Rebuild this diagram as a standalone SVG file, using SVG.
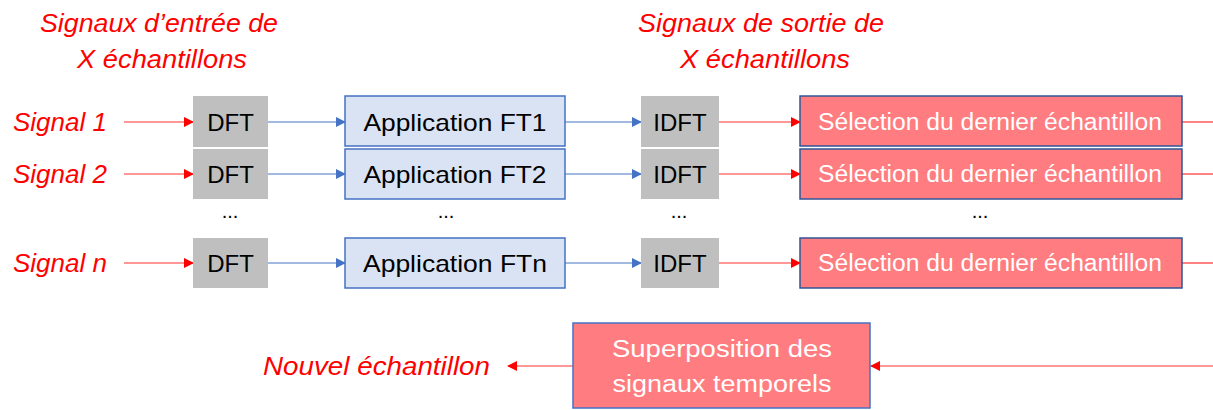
<svg xmlns="http://www.w3.org/2000/svg" width="1213" height="410" viewBox="0 0 1213 410">
<style>
.lbl{font-family:"Liberation Sans",Arial,sans-serif;font-style:italic;fill:#FF0000;font-size:25px}
.blk{font-family:"Liberation Sans",Arial,sans-serif;fill:#000;font-size:24px;text-anchor:middle;dominant-baseline:central}
.wht{font-family:"Liberation Sans",Arial,sans-serif;fill:#fff;font-size:23px;text-anchor:middle;dominant-baseline:central}
.gray{fill:#BFBFBF}
.app{fill:#DAE3F3;stroke:#4472C4;stroke-width:1.5}
.sel{fill:#FF7C80;stroke:#2F5597;stroke-width:1.5}
.sup{fill:#FF7C80;stroke:#4472C4;stroke-width:1.5}
.red{stroke:#FF3030;stroke-width:1.2;fill:none}
.blue{stroke:#4472C4;stroke-width:1;fill:none}
.dots{font-family:"Liberation Sans",Arial,sans-serif;fill:#000;font-size:20px;text-anchor:middle}
</style>
<defs>
<marker id="ar" markerWidth="10" markerHeight="10" refX="9" refY="5" orient="auto" markerUnits="userSpaceOnUse"><path d="M0,0 L10,5 L0,10 z" fill="#FF0000"/></marker>
<marker id="ab" markerWidth="10" markerHeight="10" refX="9" refY="5" orient="auto" markerUnits="userSpaceOnUse"><path d="M0,0 L10,5 L0,10 z" fill="#4472C4"/></marker>
</defs>
<g id="titles">
<text class="lbl" x="40" y="32" textLength="238" lengthAdjust="spacingAndGlyphs">Signaux d’entrée de</text>
<text class="lbl" x="77" y="68" textLength="170" lengthAdjust="spacingAndGlyphs">X échantillons</text>
<text class="lbl" x="638" y="32" textLength="246" lengthAdjust="spacingAndGlyphs">Signaux de sortie de</text>
<text class="lbl" x="680" y="68" textLength="170" lengthAdjust="spacingAndGlyphs">X échantillons</text>
<text class="lbl" x="13" y="131" textLength="94" lengthAdjust="spacingAndGlyphs">Signal 1</text>
<text class="lbl" x="13" y="183" textLength="94" lengthAdjust="spacingAndGlyphs">Signal 2</text>
<text class="lbl" x="13" y="272" textLength="94" lengthAdjust="spacingAndGlyphs">Signal n</text>
<text class="lbl" x="263" y="375" textLength="227" lengthAdjust="spacingAndGlyphs">Nouvel échantillon</text>
</g>
<g id="connectors">
<line class="red" x1="124" y1="122" x2="193" y2="122" marker-end="url(#ar)"/>
<line class="red" x1="124" y1="174" x2="193" y2="174" marker-end="url(#ar)"/>
<line class="red" x1="124" y1="263" x2="193" y2="263" marker-end="url(#ar)"/>
<line class="blue" x1="268" y1="122" x2="345" y2="122" marker-end="url(#ab)"/>
<line class="blue" x1="268" y1="174" x2="345" y2="174" marker-end="url(#ab)"/>
<line class="blue" x1="268" y1="263" x2="345" y2="263" marker-end="url(#ab)"/>
<line class="blue" x1="565" y1="122" x2="641" y2="122" marker-end="url(#ab)"/>
<line class="blue" x1="565" y1="174" x2="641" y2="174" marker-end="url(#ab)"/>
<line class="blue" x1="565" y1="263" x2="641" y2="263" marker-end="url(#ab)"/>
<line class="red" x1="719" y1="122" x2="800" y2="122" marker-end="url(#ar)"/>
<line class="red" x1="719" y1="174" x2="800" y2="174" marker-end="url(#ar)"/>
<line class="red" x1="719" y1="263" x2="800" y2="263" marker-end="url(#ar)"/>
<line class="red" x1="1182" y1="122" x2="1213" y2="122"/>
<line class="red" x1="1182" y1="174" x2="1213" y2="174"/>
<line class="red" x1="1182" y1="263" x2="1213" y2="263"/>
<line class="red" x1="1213" y1="366" x2="871" y2="366" stroke-width="2" marker-end="url(#ar)"/>
<line class="red" x1="573" y1="366" x2="508" y2="366" marker-end="url(#ar)"/>
</g>
<g id="dft1"><rect class="gray" x="193" y="96" width="75" height="51"/><text class="blk" x="230.5" y="122">DFT</text></g>
<g id="dft2"><rect class="gray" x="193" y="149" width="75" height="50"/><text class="blk" x="230.5" y="174">DFT</text></g>
<g id="dftn"><rect class="gray" x="193" y="238" width="75" height="50"/><text class="blk" x="230.5" y="263">DFT</text></g>
<g id="app1"><rect class="app" x="345" y="96" width="220" height="50"/><text class="blk" x="455" y="122" textLength="183" lengthAdjust="spacingAndGlyphs">Application FT1</text></g>
<g id="app2"><rect class="app" x="345" y="149" width="220" height="50"/><text class="blk" x="455" y="174" textLength="183" lengthAdjust="spacingAndGlyphs">Application FT2</text></g>
<g id="appn"><rect class="app" x="345" y="238" width="220" height="50"/><text class="blk" x="455" y="263" textLength="184" lengthAdjust="spacingAndGlyphs">Application FTn</text></g>
<g id="idft1"><rect class="gray" x="641" y="96" width="78" height="51"/><text class="blk" x="680" y="122">IDFT</text></g>
<g id="idft2"><rect class="gray" x="641" y="149" width="78" height="50"/><text class="blk" x="680" y="174">IDFT</text></g>
<g id="idftn"><rect class="gray" x="641" y="238" width="78" height="50"/><text class="blk" x="680" y="263">IDFT</text></g>
<g id="sel1"><rect class="sel" x="800" y="96" width="382" height="50"/><text class="wht" x="990" y="122" textLength="344" lengthAdjust="spacingAndGlyphs">Sélection du dernier échantillon</text></g>
<g id="sel2"><rect class="sel" x="800" y="149" width="382" height="50"/><text class="wht" x="990" y="174" textLength="344" lengthAdjust="spacingAndGlyphs">Sélection du dernier échantillon</text></g>
<g id="seln"><rect class="sel" x="800" y="238" width="382" height="50"/><text class="wht" x="990" y="263" textLength="344" lengthAdjust="spacingAndGlyphs">Sélection du dernier échantillon</text></g>
<g id="dots">
<text class="dots" x="230" y="218">...</text>
<text class="dots" x="446" y="218">...</text>
<text class="dots" x="679" y="218">...</text>
<text class="dots" x="980" y="218">...</text>
</g>
<g id="superposition"><rect class="sup" x="573" y="323" width="297" height="85"/>
<text class="wht" x="722" y="349" font-size="26" textLength="220" lengthAdjust="spacingAndGlyphs">Superposition des</text>
<text class="wht" x="722" y="384" font-size="26" textLength="219" lengthAdjust="spacingAndGlyphs">signaux temporels</text></g>
</svg>
